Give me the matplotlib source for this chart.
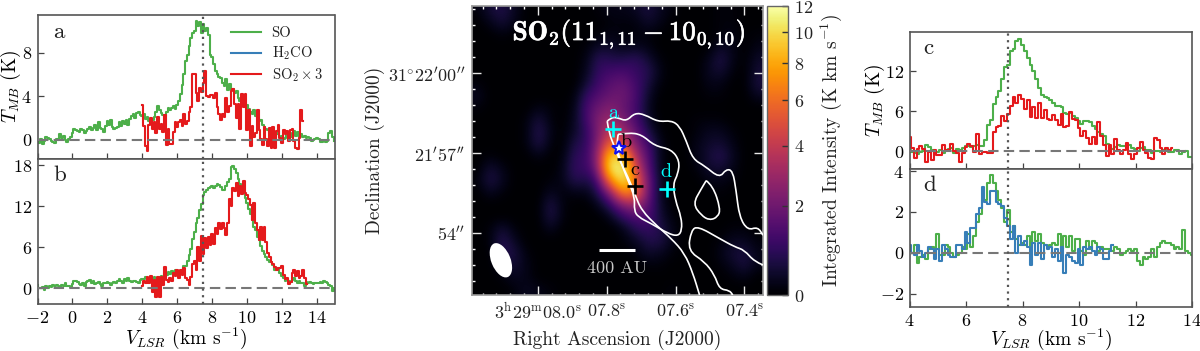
"""
Line spectra and SO2 integrated intensity map.
"""

import matplotlib
matplotlib.use('Agg')
import matplotlib.patheffects as pe
import matplotlib.pyplot as plt
import numpy as np
from matplotlib.colors import FuncNorm
from matplotlib.patches import Ellipse, PathPatch
from matplotlib.path import Path
from matplotlib.ticker import AutoMinorLocator, FixedLocator

plt.rcParams['font.family'] = ['cmr10', 'DejaVu Serif']
plt.rcParams['mathtext.fontset'] = 'cm'
plt.rcParams['axes.unicode_minus'] = False
plt.rcParams['axes.formatter.use_mathtext'] = True

# Spectra: one value per 0.1 km/s channel.
so_start = -2.0
a_so = [0.0,-0.3,0.1,-0.4,-0.1,0.3,0.2,0.1,-0.1,-0.2,-0.3,0.1,0.0,0.5,0.2,0.4,0.0,-0.2,0.1,0.3,
        0.6,1.0,0.9,0.8,0.7,1.0,0.9,0.6,0.8,1.0,1.2,0.9,1.1,1.4,0.9,1.6,1.1,1.0,0.7,1.3,
        1.7,1.4,1.8,1.2,1.0,1.1,1.2,1.6,1.3,1.7,1.5,1.8,1.4,1.9,2.2,2.4,2.0,2.5,2.6,2.3,
        2.2,2.4,1.9,2.1,1.7,1.5,1.8,2.1,2.6,3.1,2.7,2.5,2.3,2.2,2.6,2.9,2.7,2.9,3.1,2.8,
        3.2,3.6,4.2,5.0,6.0,7.2,7.8,8.6,9.3,9.8,10.0,10.9,10.4,10.8,9.8,10.6,10.0,10.3,9.6,7.8,
        7.6,7.0,6.3,6.0,5.8,5.7,5.2,4.9,5.6,4.6,5.1,4.6,4.7,4.3,4.5,3.8,3.6,3.4,3.6,3.0,
        3.2,2.8,2.6,2.4,2.7,2.2,2.0,1.7,1.8,1.4,1.2,1.0,0.9,0.6,0.5,0.7,0.4,0.5,0.8,0.3,
        0.4,0.1,0.2,0.5,0.7,0.3,0.6,0.8,0.4,0.7,0.3,0.5,0.3,0.4,0.2,0.3,0.2,-0.1,0.0,0.1,
        0.2,0.1,-0.2,-0.2,-0.1,-0.2,-0.1,0.6,0.8,0.3,-0.1]
a_so2 = [3.2,1.3,-0.6,-1.0,1.4,2.0,1.0,1.6,0.6,2.1,1.0,1.5,0.7,2.3,-0.5,1.0,-0.4,-0.4,0.7,1.6,
         1.2,1.6,1.8,1.3,2.4,1.5,1.7,2.6,3.0,6.0,6.0,4.3,3.6,4.8,4.4,5.2,6.3,4.0,3.9,4.1,
         4.1,3.8,4.3,3.0,2.4,1.8,2.4,2.1,3.8,2.6,3.1,4.5,4.7,3.3,2.0,3.3,1.0,4.2,3.0,4.2,
         0.9,2.7,-0.6,1.3,0.3,0.6,2.7,0.9,0.1,-0.5,1.2,0.1,-0.6,1.1,-0.7,1.2,-0.7,0.8,1.4,0.2,
         -0.3,0.9,0.5,0.8,-0.1,0.9,1.0,-0.1,-0.7,-0.8,0.2,2.7,1.7]
b_so = [0.5,0.1,0.0,0.2,-0.3,0.3,0.1,0.4,0.2,0.5,0.3,0.5,0.4,0.2,0.5,0.3,0.7,0.4,0.3,0.2,
        0.6,1.0,1.1,0.9,0.6,0.5,0.7,0.4,0.9,1.1,1.2,0.8,1.0,0.6,0.7,0.9,0.6,0.4,0.8,0.7,
        0.9,0.7,0.5,0.8,0.9,0.7,1.0,1.3,1.0,0.8,1.3,1.0,1.5,1.0,0.9,1.1,1.0,0.9,0.8,1.2,
        1.4,1.3,1.6,1.5,1.0,1.3,1.2,1.7,1.4,1.3,1.6,1.8,1.5,2.2,1.9,2.4,2.1,2.5,2.3,2.6,
        2.0,2.3,2.1,2.4,3.2,3.3,4.0,4.8,5.8,7.2,8.2,9.5,10.3,11.5,12.3,13.7,14.1,14.3,14.6,14.8,
        14.9,14.7,14.9,15.3,15.1,14.8,14.3,14.4,15.0,15.6,16.0,17.7,17.9,17.4,16.9,16.0,15.2,14.6,14.0,13.2,
        12.5,11.6,10.8,10.0,9.0,8.5,7.5,7.0,6.2,5.5,5.0,4.5,4.2,3.9,3.8,3.4,2.7,3.0,2.8,2.2,
        1.8,1.5,1.0,1.3,1.0,0.9,1.2,1.5,1.0,0.8,1.0,0.8,0.7,0.4,0.9,0.8,0.9,0.7,0.6,0.8,
        0.8,0.7,0.9,0.8,1.1,0.9,0.7,0.5,0.3,-0.4,0.0]
b_so2 = [0.4,1.0,0.7,1.7,0.7,1.8,-0.6,1.2,-1.3,1.6,-1.3,1.6,0.5,3.1,1.2,0.9,1.5,1.1,2.2,1.8,
         2.6,1.5,2.6,1.9,2.9,1.5,1.2,0.5,1.6,3.5,4.0,2.6,6.0,4.0,7.7,5.0,7.4,5.9,7.5,6.3,
         7.9,6.5,8.8,8.0,9.6,8.6,9.6,8.8,7.8,9.5,13.0,12.0,14.6,14.2,15.4,13.5,15.0,13.8,15.7,14.0,
         13.6,13.0,12.2,10.0,12.4,9.5,8.5,7.0,8.9,7.0,8.9,6.7,5.2,4.5,3.9,3.5,3.1,2.6,2.9,3.0,
         3.2,1.9,1.4,1.5,0.6,0.9,2.3,2.7,1.8,2.5,1.5,1.8,2.7,1.5,0.6]
so2_start = 4.0

right_start = 4.0
c_so = [0.1,-0.2,-0.3,-0.4,-0.1,0.0,0.9,0.6,0.2,-0.3,-0.1,0.2,-0.3,0.1,0.3,0.5,-0.3,0.3,0.2,0.4,
        0.7,0.8,0.6,0.8,0.9,0.7,0.8,1.6,3.9,4.6,7.0,8.1,9.0,10.9,12.7,13.0,15.1,15.4,16.6,16.9,
        16.0,15.0,14.0,13.0,12.0,10.9,9.5,8.4,8.2,8.0,7.6,7.2,6.8,6.7,6.6,5.7,5.6,5.7,5.3,5.0,
        4.5,4.0,4.5,4.5,4.3,3.7,3.3,2.9,2.6,2.2,1.0,0.5,0.3,0.6,0.9,0.8,0.8,0.8,0.9,0.5,
        0.3,0.0,0.5,0.6,0.2,0.1,-0.3,0.0,0.0,-0.2,0.2,0.1,-0.1,-0.2,0.1,0.1,-0.5,-0.1,0.0,-0.9,-0.9]
c_so2 = [2.1,0.4,-1.0,0.3,0.7,0.3,-1.7,-0.2,-1.4,0.1,-0.6,-0.6,0.9,0.2,0.1,1.0,0.0,-0.3,-1.6,-0.3,
         0.6,1.0,0.8,-0.2,2.6,-0.4,-0.2,-0.1,-0.3,-0.3,2.8,3.6,3.7,5.2,4.5,5.5,6.7,8.2,7.2,8.4,
         7.9,6.3,7.6,5.1,6.6,5.0,7.2,5.0,6.2,4.8,4.7,5.4,4.6,3.9,5.5,3.6,3.7,5.9,4.8,4.6,
         3.5,2.2,3.0,1.9,1.0,2.1,1.1,4.3,2.3,0.9,-0.8,0.9,-0.4,1.8,0.2,-0.5,0.2,1.2,-0.4,-1.2,
         -0.5,0.4,1.4,0.2,-0.3,-1.0,-1.2,1.9,1.7,0.4,-0.4,0.5,0.2,0.4]
d_so = [0.1,0.0,0.4,-0.5,-0.2,-0.1,-0.3,0.2,0.3,0.1,0.9,-0.1,-0.1,0.4,0.3,0.0,-0.2,-0.1,0.0,0.3,
        0.2,0.9,0.3,0.8,1.5,1.9,2.6,2.6,3.4,3.8,3.4,3.0,2.6,2.2,1.5,2.1,1.0,1.3,0.7,0.4,
        0.5,0.4,0.8,0.3,1.0,0.6,0.9,0.5,0.4,0.3,0.4,0.5,0.4,0.9,0.2,0.8,0.3,0.8,0.1,0.7,
        0.7,0.1,-0.1,0.6,0.2,0.6,0.5,0.1,0.3,0.2,0.2,0.2,0.1,0.3,0.2,-0.1,0.0,0.1,0.2,0.1,
        0.2,-0.4,-0.6,-0.2,-0.3,-0.2,0.2,-0.2,0.3,0.5,0.6,0.5,0.5,0.4,0.2,0.3,0.2,1.1,0.1,0.0,-0.1]
d_h2co = [0.4,0.0,-0.1,0.4,0.1,-0.2,0.0,0.3,0.2,-0.3,0.2,-0.4,0.4,0.2,-0.1,-0.2,-0.2,0.4,0.4,0.2,
          1.0,0.5,1.2,1.2,1.9,2.2,3.2,2.5,2.4,3.0,3.0,2.5,2.4,2.3,1.7,1.3,0.7,1.3,0.0,0.8,
          0.4,0.6,0.3,-0.6,0.5,-0.1,0.5,-0.3,0.4,0.2,0.3,-0.2,0.2,-0.4,0.3,-1.0,-0.1,-0.2,-0.4,-0.5,
          0.2,-0.6,0.3,0.2,0.3,0.1,-0.1,0.3,0.2,-0.3,-0.3,0.1,0.4]

# Integrated intensity (K km/s), coarse read of the map, top row first.
moment0 = np.array([
  [0.1,0.5,0.7,0.3,0,0,0,0,0,0,0.1,0.2,0.2,0.3,0.6,0.3,0.1,0,0,0,0.1,0.1,0,0],
  [0,0.2,0.5,0.2,0,0,0,0,0,0,0,0.1,0.1,0.1,0.4,0.2,0,0,0,0,0.1,0.1,0,0],
  [0,0,0.1,0,0,0,0,0,0,0,0.1,0.2,0.1,0.1,0.1,0,0,0,0,0,0.1,0.2,0,0.1],
  [0,0,0,0,0,0,0,0,0,0.1,0.4,0.4,0.2,0.3,0.2,0,0,0,0,0,0.4,0.2,0,0.2],
  [0,0,0,0,0,0,0,0,0,0.2,0.9,0.7,0.7,0.9,0.5,0.1,0,0,0,0.2,0.7,0.2,0,0.4],
  [0,0,0,0,0,0,0,0,0,0.3,1.0,1.2,1.3,1.0,0.8,0.2,0,0,0,0.3,0.5,0.1,0,0.5],
  [0.1,0,0,0,0,0,0,0,0,0.5,1.2,1.6,1.8,1.2,0.6,0.1,0,0,0,0.2,0.2,0,0,0.6],
  [0.3,0,0,0,0,0,0,0,0.1,1.0,1.5,1.9,2.0,1.3,0.4,0,0,0,0,0.1,0.1,0,0,0.3],
  [0.1,0,0,0,0,0.2,0.1,0,0.2,1.3,2.0,2.4,1.8,1.2,0.3,0,0,0,0,0,0,0,0,0],
  [0,0,0,0,0.1,0.6,0.1,0,0.3,1.2,2.5,3.0,2.2,1.3,0.4,0,0,0,0.1,0.1,0.1,0,0,0],
  [0,0,0,0,0.1,0.8,0.2,0,0.4,0.9,2.4,4.2,3.0,1.7,0.7,0.1,0,0,0.1,0.3,0.3,0.1,0,0],
  [0,0,0,0,0.1,0.7,0.1,0,0.7,0.9,2.6,6.0,4.5,2.2,1.2,0.2,0,0,0.2,0.4,0.5,0.2,0,0],
  [0,0.1,0,0,0,0.2,0,0.1,0.9,1.0,3.0,10.0,8.5,3.2,1.4,0.2,0,0,0.2,0.5,0.8,0.3,0,0],
  [0,0.5,0.2,0,0,0,0,0.2,1.0,1.0,2.5,11.5,11.0,4.5,1.5,0.2,0,0,0.1,0.4,0.5,0.2,0,0],
  [0.1,0.7,0.3,0,0,0,0.1,0.2,0.8,0.6,1.3,7.0,11.0,6.0,1.8,0.3,0,0,0,0.2,0.2,0.1,0,0],
  [0,0.3,0.1,0,0,0,0.3,0.1,0.2,0.2,0.8,2.5,7.0,6.0,1.8,0.3,0,0,0,0,0.1,0,0,0],
  [0,0,0,0,0,0,0.7,0.1,0,0,0.3,1.0,2.3,3.0,1.6,0.4,0,0,0,0,0,0,0,0],
  [0,0,0,0,0,0,0.7,0.1,0,0,0,0.3,1.0,1.4,1.4,0.5,0.1,0,0,0,0,0,0,0],
  [0,0.1,0.5,0.1,0,0,0.3,0,0,0,0,0,0.2,0.8,1.0,0.7,0.2,0,0,0,0,0.1,0.1,0],
  [0,0.1,0.8,0.3,0,0,0,0,0,0,0,0,0.1,0.3,0.7,0.7,0.2,0,0,0,0.1,0.3,0.3,0.1],
  [0,0,0.8,0.6,0.1,0,0,0,0,0,0,0,0,0.1,0.4,0.3,0.1,0,0,0,0.2,0.5,0.6,0.2],
  [0,0,0.3,0.5,0.2,0,0,0,0,0,0,0,0,0,0.1,0.1,0,0,0,0,0.1,0.3,0.6,0.2],
  [0,0,0.1,0.3,0.2,0,0,0,0,0,0,0,0,0,0,0,0,0,0,0,0,0.1,0.2,0],
  [0,0,0,0.1,0.3,0.2,0.1,0,0,0,0,0,0,0,0,0,0.1,0,0,0,0,0,0,0],
])

# Map limits: RA seconds past 3h29m, Dec arcsec from 31d21m57s.
ra_limits = (8.191, 7.346)
dec_limits = (-5.33, 5.55)
ra_ticks = [8.0, 7.8, 7.6, 7.4]
ra_labels = [r'$3^{\rm h}29^{\rm m}08.0^{\rm s}$', r'$07.8^{\rm s}$', r'$07.6^{\rm s}$', r'$07.4^{\rm s}$']
dec_ticks = [-3, 0, 3]
dec_labels = [r"$54^{\prime\prime}$", r"$21^{\prime}57^{\prime\prime}$", r"$31^{\circ}22^{\prime}00^{\prime\prime}$"]
cbar_ticks = [0, 2, 4, 6, 8, 10, 12]

# Contours and positions as (x, y) map positions, 876 units across, origin top left.
contour_outer = [(407,350),(420,338),(440,340),(465,350),(490,325),(520,330),(560,352),(600,348),(625,365),
                 (645,410),(665,465),(700,485),(745,522),(765,495),(785,500),(795,560),(805,640),(830,680),
                 (860,670),(876,695)]
contour_outer2 = [(407,350),(412,385),(430,430),(445,470),(470,520),(490,570),(510,620),(560,670),(600,705),
                  (640,750),(665,810),(685,876)]
contour_inner = [(440,390),(470,385),(510,390),(550,425),(600,435),(625,470),(620,510),(605,540),(612,590),
                 (630,640),(632,680),(620,698),(590,690),(540,660),(500,640),(488,620),(490,580),(470,530),
                 (450,480),(435,430),(440,390)]
contour_island = [(705,530),(725,545),(748,615),(740,640),(715,650),(690,635),(665,600),(690,555),(705,530)]
contour_lower = [(876,785),(850,775),(820,740),(790,730),(745,705),(680,668),(660,680),(650,742),(700,775),
                 (730,815),(745,858),(775,862),(785,876)]
positions = {'a': (424,373), 'b': (462,464), 'c': (490,545), 'd': (586,555)}
pos_colors = {'a': 'cyan', 'b': 'black', 'c': 'black', 'd': 'cyan'}
label_pos = {'a': (425,325), 'b': (465,412), 'c': (490,497), 'd': (585,505)}
star_pos = (443,432)
scalebar_pos = [(382,740), (492,740)]

C_SO = '#4daf4a'
C_H2CO = '#377eb8'
C_SO2 = '#e41a1c'
W, H = 1200, 351


def add_axes_px(fig, left, top, right, bottom):
  """Axes from pixel edges, origin top left."""
  return fig.add_axes([left/W, 1-bottom/H, (right-left)/W, (bottom-top)/H])


def to_sky(p):
  """Map position to RA, Dec."""
  p = np.atleast_2d(p)
  ra = ra_limits[0] + p[:, 0]/876*(ra_limits[1]-ra_limits[0])
  dec = dec_limits[1] + p[:, 1]/876*(dec_limits[0]-dec_limits[1])
  return np.column_stack((ra, dec))


def smooth_path(points):
  """Quadratic curve path through midpoints of the vertices."""
  pts = to_sky(points)
  verts, codes = [pts[0]], [Path.MOVETO]
  for i in range(1, len(pts)-1):
    verts += [pts[i], (pts[i]+pts[i+1])/2]
    codes += [Path.CURVE3, Path.CURVE3]
  verts.append(pts[-1])
  codes.append(Path.LINETO)
  return Path(verts, codes)


def draw_spectrum(ax, start, values, color, label=None):
  """Step line on 0.1 km/s channels."""
  v = start + 0.1*np.arange(len(values))
  ax.step(v, values, where='mid', color=color, lw=1.5, label=label)


def style_spectrum(ax, xlim, ylim, xticks, yticks, letter, letter_y, show_x):
  """Common look of a spectrum panel."""
  ax.axhline(0, color='#777777', lw=1.5, ls=(0, (5, 2.5)), zorder=5)
  ax.axvline(7.5, color='#555555', lw=1.6, ls=(0, (1, 2)), zorder=5)
  ax.set(xlim=xlim, ylim=ylim, xticks=xticks, yticks=yticks)
  ax.tick_params(direction='in', length=4.5, width=0.9, color='#444444', labelsize=13,
                 labelbottom=show_x, pad=4)
  ax.set_xticklabels([f'${t}$' for t in xticks] if show_x else [])
  ax.set_yticklabels([f'${t}$' for t in yticks])
  for s in ax.spines.values():
    s.set_color('#555555')
    s.set_linewidth(1.2)
  ax.text(letter[0], letter_y, letter[1], fontsize=16.5, color='#222222', transform=ax.transAxes,
          ha='left', va='center')


fig = plt.figure(figsize=(12, 3.51), dpi=100)

# Left column.
ax_a = add_axes_px(fig, 37.5, 15, 334.5, 159)
draw_spectrum(ax_a, so_start, a_so, C_SO, 'SO')
ax_a.plot([], [], color=C_H2CO, lw=1.5, label=r'$\mathrm{H_2CO}$')
draw_spectrum(ax_a, so2_start, a_so2, C_SO2, r'$\mathrm{SO_2} \times 3$')
style_spectrum(ax_a, (-2, 15), (-1.75, 11.45), list(range(-2, 15, 2)), [0, 4, 8], (0.052, 'a'), 0.88, False)
ax_a.set_ylabel(r'$T_{MB}$ (K)', fontsize=14, va='center')
ax_a.yaxis.set_label_coords(-0.09, 0.5)
ax_a.legend(loc='upper right', frameon=False, fontsize=10.5, handlelength=2.0, labelspacing=0.3,
            bbox_to_anchor=(0.98, 0.96), borderaxespad=0, handletextpad=0.75, labelcolor='#222222')

ax_b = add_axes_px(fig, 37.5, 159, 334.5, 304)
draw_spectrum(ax_b, so_start, b_so, C_SO)
draw_spectrum(ax_b, so2_start, b_so2, C_SO2)
style_spectrum(ax_b, (-2, 15), (-2.3, 18.9), list(range(-2, 15, 2)), [0, 6, 12, 18], (0.052, 'b'), 0.89, True)
ax_b.set_xlabel(r'$V_{LSR}$ (km s$^{-1}$)', fontsize=14, va='center')
ax_b.xaxis.set_label_coords(0.5, -0.24)

# Map.
ax_m = add_axes_px(fig, 472, 5.5, 763, 295)
norm = FuncNorm((lambda v: np.log1p(0.3*np.clip(v, 0, None)), lambda u: np.expm1(u)/0.3), vmin=0, vmax=12)
im = ax_m.imshow(moment0, cmap='inferno', norm=norm, interpolation='bicubic', aspect='auto',
                 extent=(ra_limits[0], ra_limits[1], dec_limits[0], dec_limits[1]), origin='upper')
for pts in (contour_outer, contour_outer2, contour_inner, contour_island, contour_lower):
  ax_m.add_patch(PathPatch(smooth_path(pts), fc='none', ec='white', lw=1.2, zorder=3))
for name, p in positions.items():
  sky = to_sky(p)[0]
  ax_m.plot(sky[0], sky[1], '+', color=pos_colors[name], ms=11.5, mew=1.9, zorder=4)
  lab = to_sky(label_pos[name])[0]
  ax_m.text(lab[0], lab[1], name, color=pos_colors[name], fontsize=14.5, ha='center', va='center', zorder=5)
star = to_sky(star_pos)[0]
ax_m.plot(star[0], star[1], '*', mfc='white', mec='#1010ee', mew=1.5, ms=10, zorder=5)
bar = to_sky(scalebar_pos)
ax_m.plot(bar[:, 0], bar[:, 1], color='white', lw=2.2, solid_capstyle='butt', zorder=4)
ax_m.text(0.497, 0.093, '400 AU', color='#c8c8c8', fontsize=13, ha='center', va='center', transform=ax_m.transAxes)
ax_m.text(0.54, 0.9, r'$\mathbf{SO_2(11_{1,11} - 10_{0,10})}$', color='white', fontsize=19.5, ha='center',
          va='center', transform=ax_m.transAxes,
          path_effects=[pe.withStroke(linewidth=0.5, foreground='white')])
ax_m.add_patch(Ellipse((0.0993, 0.12), 0.066, 0.125, angle=22, fc='white', ec='none', transform=ax_m.transAxes))
ax_m.set_xlim(ra_limits)
ax_m.set_ylim(dec_limits)
ax_m.xaxis.set_major_locator(FixedLocator(ra_ticks))
ax_m.yaxis.set_major_locator(FixedLocator(dec_ticks))
ax_m.set_xticklabels(ra_labels)
ax_m.set_yticklabels(dec_labels)
ax_m.xaxis.set_minor_locator(AutoMinorLocator(5))
ax_m.yaxis.set_minor_locator(AutoMinorLocator(5))
ax_m.tick_params(which='major', direction='in', color='#e8e8e8', length=6.5, width=1, top=True, right=True,
                 labelsize=13, labelcolor='#222222', pad=5)
ax_m.tick_params(which='minor', direction='in', color='white', length=1.8, width=1, top=True, right=True)
for s in ax_m.spines.values():
  s.set_color('#999999')
  s.set_linewidth(1.2)
ax_m.set_xlabel('Right Ascension (J2000)', fontsize=14, labelpad=6, color='#222222')
ax_m.set_ylabel('Declination (J2000)', fontsize=14, labelpad=2, color='#222222')

cax = add_axes_px(fig, 767, 6, 788, 295)
cb = fig.colorbar(im, cax=cax, ticks=cbar_ticks)
cb.set_ticklabels([f'${t}$' for t in cbar_ticks])
cb.ax.tick_params(direction='in', length=4.5, width=1, color='#333333', labelsize=13, pad=4, labelcolor='#222222')
cb.ax.minorticks_off()
cb.outline.set_edgecolor('#666666')
cb.outline.set_linewidth(1.0)
cb.set_label(r'Integrated Intensity (K km s$^{-1}$)', fontsize=14, labelpad=4, color='#222222')

# Right column.
ax_c = add_axes_px(fig, 909.5, 32, 1192, 169)
draw_spectrum(ax_c, right_start, c_so, C_SO)
draw_spectrum(ax_c, right_start, c_so2, C_SO2)
style_spectrum(ax_c, (4, 14), (-2.7, 17.9), list(range(4, 15, 2)), [0, 6, 12], (0.048, 'c'), 0.883, False)
ax_c.set_ylabel(r'$T_{MB}$ (K)', fontsize=14, va='center')
ax_c.yaxis.set_label_coords(-0.122, 0.5)

ax_d = add_axes_px(fig, 909.5, 169, 1192, 307)
draw_spectrum(ax_d, right_start, d_so, C_SO)
draw_spectrum(ax_d, right_start, d_h2co, C_H2CO)
style_spectrum(ax_d, (4, 14), (-2.65, 4.1), list(range(4, 15, 2)), [-2, 0, 2, 4], (0.048, 'd'), 0.884, True)
ax_d.set_xlabel(r'$V_{LSR}$ (km s$^{-1}$)', fontsize=14, va='center')
ax_d.xaxis.set_label_coords(0.5, -0.232)

fig.savefig('out.png', dpi=100)
